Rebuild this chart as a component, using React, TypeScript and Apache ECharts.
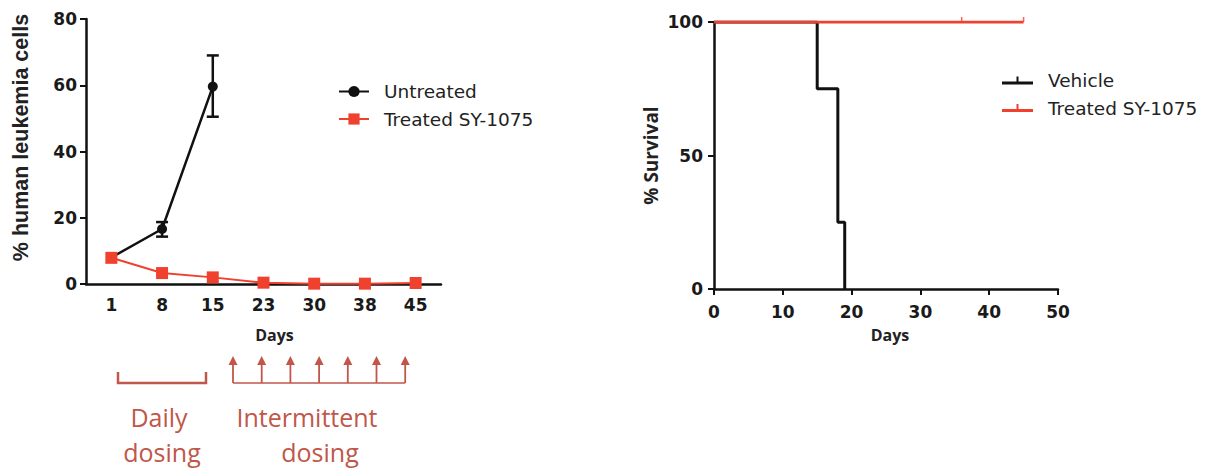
import React, { useEffect, useRef } from "react";
import * as echarts from "echarts";

// ---- Left chart data ----
const days = ["1", "8", "15", "23", "30", "38", "45"];
const untreated: (number | string)[] = [8, 16.6, 59.6, "-", "-", "-", "-"];
const errIdx = [1, 2];
const errLow = [14.3, 50.5];
const errHigh = [18.7, 69];
const treated = [7.9, 3.3, 2.0, 0.4, 0.1, 0.1, 0.3];
const leftTicks = { min: 0, max: 80, interval: 20 };

// ---- Right chart data (Kaplan-Meier) ----
const vehicleDays = [0, 15, 15, 18, 18, 19, 19];
const vehicleSurv = [100, 100, 75, 75, 25, 25, 0];
const treatedKmDays = [0, 45];
const treatedKmSurv = [100, 100];
const censorDays = [36, 45];
const censorSurv = [100, 100];
const rightX = { min: 0, max: 50, interval: 10 };
const rightY = { min: 0, max: 100, interval: 50 };

const BLACK = "#111111";
const RED = "#f0412f";
const ANNO = "#c0574a";
const TICKFONT = "DejaVu Sans";

export default function App() {
  const ref = useRef<HTMLDivElement>(null);
  useEffect(() => {
    if (!ref.current) return;
    const chart = echarts.init(ref.current, undefined, { renderer: "svg" });

    const axisLine = { lineStyle: { color: BLACK, width: 2.5 } };
    const axisTick = { length: 6, lineStyle: { color: BLACK, width: 2 } };
    const tickLabel = { color: "#1a1a1a", fontFamily: TICKFONT, fontWeight: "bold" as const, fontSize: 17 };

    const arrowXs = [0, 1, 2, 3, 4, 5, 6].map((i) => 233 + i * 28.7);
    const arrowChildren: any[] = [];
    arrowXs.forEach((x) => {
      arrowChildren.push({ type: "line", shape: { x1: x, y1: 383, x2: x, y2: 362 }, style: { stroke: ANNO, lineWidth: 1.8 } });
      arrowChildren.push({ type: "polygon", shape: { points: [[x - 4.5, 365], [x + 4.5, 365], [x, 356]] }, style: { fill: ANNO } });
    });
    arrowChildren.push({ type: "line", shape: { x1: arrowXs[0], y1: 383, x2: arrowXs[6], y2: 383 }, style: { stroke: ANNO, lineWidth: 1.5 } });

    const annoFont = { fontFamily: "Open Sans", fontSize: 25, fill: ANNO, textAlign: "center", textVerticalAlign: "middle" };

    chart.setOption({
      animation: false,
      backgroundColor: "#ffffff",
      grid: [
        { left: 86, top: 19, width: 355, height: 265 },
        { left: 714, top: 22, width: 344, height: 267 },
      ],
      xAxis: [
        {
          type: "category",
          gridIndex: 0,
          data: days,
          boundaryGap: true,
          axisLine,
          axisTick: { ...axisTick, alignWithLabel: true },
          axisLabel: { ...tickLabel, margin: 12 },
          name: "Days",
          nameLocation: "middle",
          nameGap: 43,
          nameTextStyle: { fontFamily: "Open Sans", fontWeight: "bold", fontSize: 16, color: "#222", padding: [0, 0, 0, 22] },
        },
        {
          type: "value",
          gridIndex: 1,
          ...rightX,
          splitLine: { show: false },
          axisLine: { ...axisLine, onZero: false },
          axisTick,
          axisLabel: { ...tickLabel, margin: 14 },
          name: "Days",
          nameLocation: "middle",
          nameGap: 38,
          nameTextStyle: { fontFamily: "Open Sans", fontWeight: "bold", fontSize: 16, color: "#222", padding: [0, 0, 0, 8] },
        },
      ],
      yAxis: [
        {
          type: "value",
          gridIndex: 0,
          ...leftTicks,
          splitLine: { show: false },
          axisLine: { ...axisLine, show: true },
          axisTick: { ...axisTick, show: true },
          axisLabel: { ...tickLabel, margin: 9 },
          name: "% human leukemia cells",
          nameLocation: "middle",
          nameGap: 54,
          nameTextStyle: { fontFamily: "Liberation Sans", fontWeight: "bold", fontSize: 21.5, color: "#222", padding: [0, 0, 0, 28] },
        },
        {
          type: "value",
          gridIndex: 1,
          ...rightY,
          splitLine: { show: false },
          axisLine: { ...axisLine, show: true },
          axisTick: { ...axisTick, show: true },
          axisLabel: { ...tickLabel, margin: 11 },
          name: "% Survival",
          nameLocation: "middle",
          nameGap: 54,
          nameTextStyle: { fontFamily: "Open Sans", fontWeight: "bold", fontSize: 19, color: "#222" },
        },
      ],
      legend: [
        {
          left: 333,
          top: 77,
          orient: "vertical",
          itemWidth: 30,
          itemHeight: 14,
          itemGap: 8.5,
          data: ["Untreated", "Treated SY-1075"],
          textStyle: { fontFamily: TICKFONT, fontSize: 18.5, color: "#222", padding: [0, 0, 0, 10] },
        },
        {
          left: 997,
          top: 66,
          orient: "vertical",
          itemWidth: 31,
          itemHeight: 14,
          itemGap: 8.5,
          data: [
            { name: "Vehicle", icon: "path://M0,9h14.5v-5h2v5h14.5v3h-31z" },
            { name: "Treated SY-1075 ", icon: "path://M0,9h14.5v-5h2v5h14.5v3h-31z" },
          ],
          textStyle: { fontFamily: TICKFONT, fontSize: 18.5, color: "#222", padding: [0, 0, 0, 10] },
        },
      ],
      series: [
        {
          name: "Untreated",
          type: "line",
          xAxisIndex: 0,
          yAxisIndex: 0,
          data: untreated,
          symbol: "circle",
          symbolSize: 10,
          itemStyle: { color: BLACK },
          lineStyle: { color: BLACK, width: 2.5 },
          z: 3,
        },
        {
          name: "Untreated-err",
          type: "custom",
          xAxisIndex: 0,
          yAxisIndex: 0,
          data: errIdx.map((i, k) => [i, errLow[k], errHigh[k]]),
          encode: { x: 0, y: [1, 2] },
          renderItem: (params: any, api: any) => {
            const idx = api.value(0);
            const top = api.coord([idx, api.value(2)]);
            const bot = api.coord([idx, api.value(1)]);
            const w = 6;
            const st = { stroke: BLACK, lineWidth: 2.5 };
            return {
              type: "group",
              children: [
                { type: "line", shape: { x1: top[0], y1: top[1], x2: bot[0], y2: bot[1] }, style: st },
                { type: "line", shape: { x1: top[0] - w, y1: top[1], x2: top[0] + w, y2: top[1] }, style: st },
                { type: "line", shape: { x1: bot[0] - w, y1: bot[1], x2: bot[0] + w, y2: bot[1] }, style: st },
              ],
            };
          },
          z: 3,
        },
        {
          name: "Treated SY-1075",
          type: "line",
          xAxisIndex: 0,
          yAxisIndex: 0,
          data: treated,
          symbol: "rect",
          symbolSize: 12,
          itemStyle: { color: RED },
          lineStyle: { color: RED, width: 2 },
          z: 4,
        },
        {
          name: "Vehicle",
          type: "line",
          xAxisIndex: 1,
          yAxisIndex: 1,
          data: vehicleDays.map((d, i) => [d, vehicleSurv[i]]),
          showSymbol: false,
          symbol: "none",
          itemStyle: { color: BLACK },
          lineStyle: { color: BLACK, width: 3 },
          z: 3,
        },
        {
          name: "Treated SY-1075 ",
          type: "line",
          xAxisIndex: 1,
          yAxisIndex: 1,
          data: treatedKmDays.map((d, i) => [d, treatedKmSurv[i]]),
          symbol: "none",
          itemStyle: { color: RED },
          lineStyle: { color: RED, width: 3 },
          z: 4,
        },
        {
          name: "censor",
          type: "scatter",
          xAxisIndex: 1,
          yAxisIndex: 1,
          data: censorDays.map((d, i) => [d, censorSurv[i]]),
          symbol: "rect",
          symbolSize: [1.5, 5],
          symbolOffset: [0, -2.5],
          itemStyle: { color: RED },
          z: 4,
        },
      ],
      graphic: [
        {
          type: "polyline",
          shape: { points: [[118, 372], [118, 383], [206, 383], [206, 372]] },
          style: { stroke: ANNO, lineWidth: 2.5, fill: "none" },
        },
        { type: "group", children: arrowChildren },
        { type: "text", x: 159, y: 417, style: { text: "Daily", ...annoFont } },
        { type: "text", x: 162, y: 452, style: { text: "dosing", ...annoFont } },
        { type: "text", x: 307, y: 417, style: { text: "Intermittent", ...annoFont } },
        { type: "text", x: 320, y: 452, style: { text: "dosing", ...annoFont } },
      ],
    });
    return () => chart.dispose();
  }, []);
  return (
    <div
      ref={ref}
      style={{ position: "fixed", left: 0, top: 0, width: 1212, height: 468, background: "#fff" }}
    />
  );
}
